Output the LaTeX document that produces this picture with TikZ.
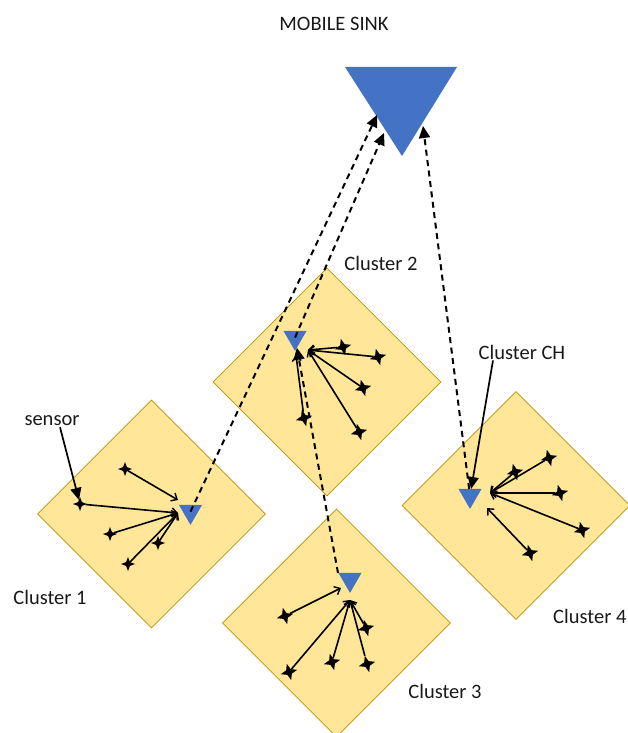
\documentclass[tikz,border=0pt]{standalone}
\usepackage{fontspec}
\setmainfont{Carlito}
\usetikzlibrary{shapes.geometric,arrows.meta}
\definecolor{dfill}{HTML}{FFE699}
\definecolor{dline}{HTML}{BF9000}
\definecolor{chblue}{HTML}{4472C4}
\begin{document}
\begin{tikzpicture}[x=1pt,y=-1pt,
  cluster/.style={diamond, aspect=1, minimum size=228pt, inner sep=0pt, fill=dfill, draw=dline, line width=0.8pt},
  chnode/.style={regular polygon, regular polygon sides=3, shape border rotate=180, minimum size=26.6pt, inner sep=0pt, outer sep=0pt, fill=chblue},
  sensnode/.style={star, star points=4, star point ratio=2.6, minimum size=17pt, inner sep=0pt, outer sep=0pt, fill=black},
  sensrot/.style={sensnode, shape border rotate=15},
  lbl/.style={font=\fontsize{20.5}{24}\selectfont, text=black!90, inner sep=1pt},
  sarrow/.style={line width=1.6pt, -{Straight Barb[length=5pt,width=9pt,line width=1.4pt]}},
  darrow/.style={line width=2pt, dash pattern=on 6pt off 4.5pt, -{Triangle[length=12pt,width=11pt]}},
  larrow/.style={line width=1.7pt, -{Triangle[length=12pt,width=11pt]}}
]
\useasboundingbox (0,0) rectangle (627,733);

% clusters
\node[cluster] (cl1) at (151.5,514) {};
\node[cluster] (cl2) at (327,382) {};
\node[cluster] (cl3) at (336.5,623) {};
\node[cluster] (cl4) at (516,505.5) {};

% mobile sink
\fill[chblue] (345,67) -- (457,67) -- (402,156) -- cycle;
\coordinate (sinkA) at (377,115);
\coordinate (sinkB) at (384,133);
\coordinate (sinkC) at (423,126);

% labels
\node[lbl] (lsink) at (334,24) {MOBILE SINK};
\node[lbl] (lc2) at (381,263) {Cluster 2};
\node[lbl] (lcch) at (522,352) {Cluster CH};
\node[lbl] (lsens) at (52,421) {sensor};
\node[lbl] (lc1) at (50,597) {Cluster 1};
\node[lbl] (lc3) at (445,691) {Cluster 3};
\node[lbl,anchor=west] (lc4) at (552,616) {Cluster 4};

% cluster heads
\node[chnode] (ch1) at (190.5,511.6) {};
\node[chnode] (ch2) at (295,337.6) {};
\node[chnode] (ch3) at (350,579.6) {};
\node[chnode] (ch4) at (470,495.6) {};
\coordinate (ch3tl) at (338,573);

% cluster 1 sensors
\node[sensnode,minimum size=14pt] (s11) at (125,469) {};
\node[sensnode,minimum size=14pt] (s12) at (80,504) {};
\node[sensnode,minimum size=14pt] (s13) at (110,534) {};
\node[sensnode,minimum size=14pt] (s14) at (158,543) {};
\node[sensnode,minimum size=14pt] (s15) at (128,564) {};
\coordinate (hub1a) at (178,500);
\coordinate (hub1) at (178,513);
\draw[sarrow] (s11) -- (hub1a);
\draw[sarrow] (s12) -- (hub1);
\draw[sarrow] (s13) -- (hub1);
\draw[sarrow] (s14) -- (hub1);
\draw[sarrow] (s15) -- (hub1);

% cluster 2 sensors
\node[sensrot] (s21) at (343,347) {};
\node[sensrot] (s22) at (378,357) {};
\node[sensrot] (s23) at (363,388) {};
\node[sensrot] (s24) at (304,418) {};
\node[sensrot] (s25) at (359,432) {};
\coordinate (hub2) at (308,350);
\coordinate (hub2b) at (296,355);
\draw[sarrow] (s21) -- (hub2);
\draw[sarrow] (s22) -- (hub2);
\draw[sarrow] (s23) -- (hub2);
\draw[sarrow] (s25) -- (hub2);
\draw[sarrow] (s24) -- (hub2b);

% cluster 3 sensors
\node[sensrot] (s31) at (285,616) {};
\node[sensrot] (s32) at (289,672) {};
\node[sensrot] (s33) at (332,662) {};
\node[sensrot] (s34) at (366,628) {};
\node[sensrot] (s35) at (367,664) {};
\coordinate (hub3a) at (341,588);
\coordinate (hub3) at (350,600);
\draw[sarrow] (s31) -- (hub3a);
\draw[sarrow] (s32) -- (hub3);
\draw[sarrow] (s33) -- (hub3);
\draw[sarrow] (s34) -- (hub3);
\draw[sarrow] (s35) -- (hub3);

% cluster 4 sensors
\node[sensrot] (s41) at (549,458) {};
\node[sensrot] (s42) at (515,472) {};
\node[sensrot] (s43) at (560,493) {};
\node[sensrot] (s44) at (582,530) {};
\node[sensrot] (s45) at (530,553) {};
\coordinate (hub4) at (490,493);
\coordinate (hub4b) at (487,508);
\draw[sarrow] (s41) -- (hub4);
\draw[sarrow] (s42) -- (hub4);
\draw[sarrow] (s43) -- (hub4);
\draw[sarrow] (s44) -- (hub4);
\draw[sarrow] (s45) -- (hub4b);

% dashed links
\draw[darrow] (ch1.center) -- (sinkA);
\draw[darrow] (ch2.center) -- (sinkB);
\draw[darrow] (ch4) -- (sinkC);
\draw[darrow] (ch3tl) -- (ch2);

% label pointers
\draw[larrow] ([xshift=8pt]lsens.south) -- (s12);
\draw[larrow] ([xshift=-29pt]lcch.south) -- (ch4);
\end{tikzpicture}
\end{document}
